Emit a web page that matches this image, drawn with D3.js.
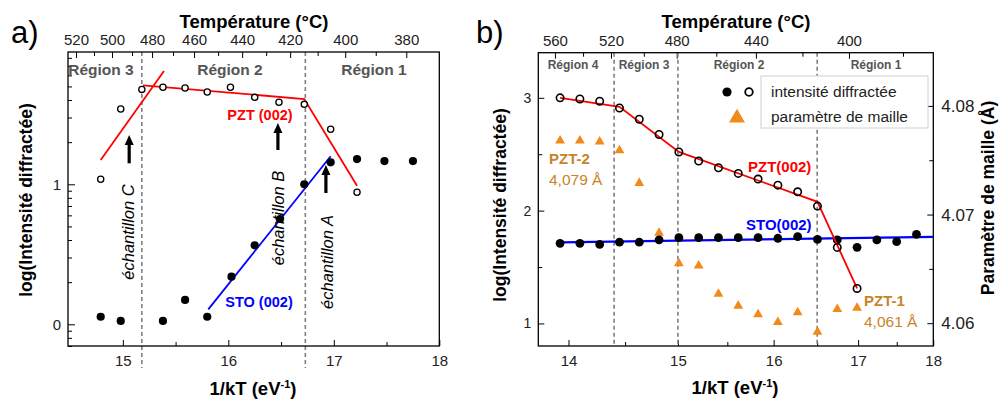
<!DOCTYPE html>
<html><head><meta charset="utf-8">
<script src="https://cdn.jsdelivr.net/npm/d3@7"></script>
<style>body{margin:0;background:#fff}svg{display:block}</style>
</head><body><svg id="c" width="1001" height="403"></svg>
<script>
// ================= DATA =================
const K_B = 8.617333e-5; // eV/K

// ---- Panel a (x: 1/kT, y: log(intensity)) ----
const aPZT_x = [14.79,14.98,15.18,15.38,15.59,15.80,16.02,16.25,16.48,16.72,16.97,17.22];
const aPZT_y = [1.036,1.538,1.678,1.693,1.688,1.659,1.693,1.621,1.586,1.571,1.393,0.943];
const aSTO_x = [14.79,14.98,15.38,15.59,15.80,16.03,16.25,16.49,16.72,16.97,17.22,17.48,17.75];
const aSTO_y = [0.054,0.024,0.024,0.174,0.054,0.340,0.564,0.752,1.000,1.157,1.180,1.166,1.166];
const aFitPZT1_x = [14.79,15.39], aFitPZT1_y = [1.174,1.81];
const aFitPZT2_x = [15.19,16.72,17.22], aFitPZT2_y = [1.707,1.609,0.99];
const aFitSTO_x = [15.81,16.97], aFitSTO_y = [0.107,1.20];
const aBounds = [15.18,16.73];
const aTopLabels = ["520","500","480","460","440","420","400","380"];
const aTopAt = [14.556,14.897,15.277,15.675,16.131,16.586,17.108,17.687];
const aBottomTicks = [15,16,17,18];
const aBottomMinor = [15.5,16.5,17.5];
const aLeftTicks = [0,1];

// ---- Panel b (x: temperature °C, bottom labelled in 1/kT) ----
const bPZT_T = [560,550,540,530,520,510,500,490,480,470,460,450,440,430,420,410];
const bPZT_v = [3.00,2.99,2.97,2.91,2.81,2.675,2.52,2.44,2.38,2.33,2.28,2.226,2.167,2.04,1.674,1.31];
const bSTO_T = [560,550,540,530,520,510,500,490,480,470,460,450,440,430,420,410,400,390,380];
const bSTO_v = [1.71,1.71,1.70,1.72,1.72,1.74,1.76,1.76,1.76,1.76,1.76,1.755,1.77,1.745,1.74,1.675,1.74,1.725,1.79];
const bPar_T = [560,550,540,530,520,510,500,490,480,470,460,450,440,430,420,410];
const bPar_v = [4.0768,4.0768,4.0767,4.0759,4.0729,4.0683,4.0655,4.0653,4.0627,4.0616,4.0608,4.0601,4.0610,4.0592,4.0613,4.0614];
const bFitPZT_T = [560,530,500,430,410], bFitPZT_v = [3.00,2.92,2.52,2.078,1.31];
const bFitSTO_T = [560,371.5], bFitSTO_v = [1.718,1.768];
const bBounds = [14.4,15.0,16.5];           // in 1/kT
const bBottomTicks = [14,15,16,17,18];       // 1/kT
const bBottomMinor = [14.5,15.5,16.5,17.5];
const bTopLabels = ["560","520","480","440","400"];
const bTopAt = [562.6,534.3,501.1,461.1,414.1];
const bTopMinor = [548.4,517.7,481.1,437.6,386.8];
const bLeftTicks = [1,2,3], bLeftMinor = [1.5,2.5];
const bRightTicks = [4.06,4.07,4.08], bRightMinor = [4.065,4.075];

// ================= DRAW =================
const FONT = '"Liberation Sans", Arial, Helvetica, sans-serif';
const svg = d3.select("#c").style("font-family", FONT);
const invT = v => 1/(K_B*v) - 273.15;

function styleAxis(g, size){
  g.select(".domain").remove();
  g.selectAll("text").attr("font-size", size).attr("font-family", FONT).attr("fill","#222");
  g.selectAll("line").attr("stroke","#000").attr("stroke-width",1);
}

// ---------- Panel a ----------
const A = {l:68, r:439.3, t:52, b:346};
const xa = d3.scaleLinear().domain([14.48,18]).range([A.l,A.r]);
const ya = d3.scaleLinear().domain([-0.155,1.945]).range([A.b,A.t]);
const ga = svg.append("g");

// minor log ticks
const aMinor = [];
[-1,0,1].forEach(n=>{ for(let k=2;k<=9;k++){ const v=n+Math.log10(k); if(v>ya.domain()[0]&&v<ya.domain()[1]) aMinor.push(v);} });

ga.append("g").attr("transform",`translate(0,${A.b})`)
  .call(d3.axisBottom(xa).tickValues(aBottomTicks).tickSize(-6).tickSizeOuter(0).tickPadding(9).tickFormat(d3.format("d")))
  .call(g=>styleAxis(g,15));
ga.append("g").attr("transform",`translate(0,${A.b})`)
  .call(d3.axisBottom(xa).tickValues(aBottomMinor).tickSize(-4).tickSizeOuter(0).tickFormat(""))
  .call(g=>styleAxis(g,15));
ga.append("g").attr("transform",`translate(${A.l},0)`)
  .call(d3.axisLeft(ya).tickValues(aLeftTicks).tickSize(-7).tickSizeOuter(0).tickPadding(7).tickFormat(d3.format("d")))
  .call(g=>styleAxis(g,15));
ga.append("g").attr("transform",`translate(${A.l},0)`)
  .call(d3.axisLeft(ya).tickValues(aMinor).tickSize(-4).tickSizeOuter(0).tickFormat(""))
  .call(g=>styleAxis(g,15));
ga.append("g").attr("transform",`translate(0,${A.t})`)
  .call(d3.axisTop(xa).tickValues(aTopAt).tickSize(-6).tickSizeOuter(0).tickPadding(7).tickFormat((d,i)=>aTopLabels[i]))
  .call(g=>styleAxis(g,15));
const aTopMinor = aTopAt.slice(1).map((v,i)=>(v+aTopAt[i])/2);
ga.append("g").attr("transform",`translate(0,${A.t})`)
  .call(d3.axisTop(xa).tickValues(aTopMinor).tickSize(-4).tickSizeOuter(0).tickFormat(""))
  .call(g=>styleAxis(g,15));

// dashed boundaries
ga.selectAll(".bd").data(aBounds).join("line")
  .attr("x1",d=>xa(d)).attr("x2",d=>xa(d)).attr("y1",A.t).attr("y2",A.b+22)
  .attr("stroke","#7f7f7f").attr("stroke-width",1.6).attr("stroke-dasharray","4,3");

ga.append("rect").attr("x",A.l).attr("y",A.t).attr("width",A.r-A.l).attr("height",A.b-A.t)
  .attr("fill","none").attr("stroke","#000").attr("stroke-width",1.3);

// fit lines
const lineA = d3.line().x(d=>xa(d[0])).y(d=>ya(d[1]));
const zip = (a,b)=>a.map((v,i)=>[v,b[i]]);
ga.append("path").attr("d",lineA(zip(aFitPZT1_x,aFitPZT1_y))).attr("stroke","#ff0000").attr("stroke-width",1.8).attr("fill","none");
ga.append("path").attr("d",lineA(zip(aFitPZT2_x,aFitPZT2_y))).attr("stroke","#ff0000").attr("stroke-width",1.8).attr("fill","none");
ga.append("path").attr("d",lineA(zip(aFitSTO_x,aFitSTO_y))).attr("stroke","#0000ff").attr("stroke-width",1.8).attr("fill","none");

// markers
ga.selectAll(".pzt").data(zip(aPZT_x,aPZT_y)).join("circle")
  .attr("cx",d=>xa(d[0])).attr("cy",d=>ya(d[1])).attr("r",3.1)
  .attr("fill","#fff").attr("stroke","#000").attr("stroke-width",1.3);
ga.selectAll(".sto").data(zip(aSTO_x,aSTO_y)).join("circle")
  .attr("cx",d=>xa(d[0])).attr("cy",d=>ya(d[1])).attr("r",4.1).attr("fill","#000");

// region labels
[["Région 3",101],["Région 2",230],["Région 1",374]].forEach(([t,x])=>{
  ga.append("text").attr("x",x).attr("y",75).attr("text-anchor","middle")
    .attr("font-size",15.5).attr("font-weight","bold").attr("fill","#555").text(t);
});
ga.append("text").attr("x",260).attr("y",120).attr("text-anchor","middle")
  .attr("font-size",14.5).attr("font-weight","bold").attr("fill","#ff0000").text("PZT (002)");
ga.append("text").attr("x",259).attr("y",307).attr("text-anchor","middle")
  .attr("font-size",14.5).attr("font-weight","bold").attr("fill","#0000ff").text("STO (002)");

// arrows + sample labels
const arrows = [{x:15.06,y0:1.15,y1:1.352},{x:16.47,y0:1.245,y1:1.438},{x:16.925,y0:0.938,y1:1.138}];
arrows.forEach(a=>{
  const x=xa(a.x), yb=ya(a.y0), yt=ya(a.y1);
  ga.append("line").attr("x1",x).attr("x2",x).attr("y1",yb).attr("y2",yt+8).attr("stroke","#000").attr("stroke-width",3.2);
  ga.append("path").attr("d",`M${x},${yt} L${x-4.5},${yt+10} L${x+4.5},${yt+10} Z`).attr("fill","#000");
});
[["échantillon C",128,232],["échantillon B",278,218],["échantillon A",327,262]].forEach(([t,x,y])=>{
  ga.append("text").attr("transform",`translate(${x},${y}) rotate(-90)`).attr("text-anchor","middle").attr("dy","0.35em")
    .attr("font-size",16.5).attr("font-style","italic").attr("fill","#000").text(t);
});

// titles
ga.append("text").attr("x",254).attr("y",28).attr("text-anchor","middle").attr("font-size",18.5).attr("font-weight","bold").text("Température (°C)");
const xtA = ga.append("text").attr("x",253).attr("y",395).attr("text-anchor","middle").attr("font-size",18.5).attr("font-weight","bold");
xtA.append("tspan").text("1/kT (eV");
xtA.append("tspan").attr("font-size",11).attr("dy",-7).text("-1");
xtA.append("tspan").attr("dy",7).text(")");
ga.append("text").attr("transform","translate(32,200) rotate(-90)").attr("text-anchor","middle").attr("font-size",17.5).attr("font-weight","bold").text("log(Intensité diffractée)");
ga.append("text").attr("x",11).attr("y",43).attr("font-size",31).text("a)");

// ---------- Panel b ----------
const B = {l:538.3, r:933.3, t:52.7, b:346};
const xb = d3.scaleLinear().domain([571,371.5]).range([B.l,B.r]);
const yb = d3.scaleLinear().domain([0.8,3.4]).range([B.b,B.t]);
const yb2 = d3.scaleLinear().domain([4.0579,4.0849]).range([B.b,B.t]);
const gb = svg.append("g");

gb.append("g").attr("transform",`translate(0,${B.b})`)
  .call(d3.axisBottom(xb).tickValues(bBottomTicks.map(invT)).tickSize(-6).tickSizeOuter(0).tickPadding(9).tickFormat((d,i)=>bBottomTicks[i]))
  .call(g=>styleAxis(g,15));
gb.append("g").attr("transform",`translate(0,${B.b})`)
  .call(d3.axisBottom(xb).tickValues(bBottomMinor.map(invT)).tickSize(-4).tickSizeOuter(0).tickFormat(""))
  .call(g=>styleAxis(g,15));
gb.append("g").attr("transform",`translate(0,${B.t})`)
  .call(d3.axisTop(xb).tickValues(bTopAt).tickSize(-6).tickSizeOuter(0).tickPadding(7).tickFormat((d,i)=>bTopLabels[i]))
  .call(g=>styleAxis(g,15));
gb.append("g").attr("transform",`translate(0,${B.t})`)
  .call(d3.axisTop(xb).tickValues(bTopMinor).tickSize(-4).tickSizeOuter(0).tickFormat(""))
  .call(g=>styleAxis(g,15));
gb.append("g").attr("transform",`translate(${B.l},0)`)
  .call(d3.axisLeft(yb).tickValues(bLeftTicks).tickSize(-6).tickSizeOuter(0).tickPadding(7).tickFormat(d3.format("d")))
  .call(g=>styleAxis(g,14));
gb.append("g").attr("transform",`translate(${B.l},0)`)
  .call(d3.axisLeft(yb).tickValues(bLeftMinor).tickSize(-4).tickSizeOuter(0).tickFormat(""))
  .call(g=>styleAxis(g,14));
gb.append("g").attr("transform",`translate(${B.r},0)`)
  .call(d3.axisRight(yb2).tickValues(bRightTicks).tickSize(-6).tickSizeOuter(0).tickPadding(8).tickFormat(d3.format(".2f")))
  .call(g=>styleAxis(g,17));
gb.append("g").attr("transform",`translate(${B.r},0)`)
  .call(d3.axisRight(yb2).tickValues(bRightMinor).tickSize(-4).tickSizeOuter(0).tickFormat(""))
  .call(g=>styleAxis(g,17));

gb.selectAll(".bd").data(bBounds).join("line")
  .attr("x1",d=>xb(invT(d))).attr("x2",d=>xb(invT(d))).attr("y1",B.t).attr("y2",B.b)
  .attr("stroke","#7f7f7f").attr("stroke-width",1.6).attr("stroke-dasharray","4,3");

gb.append("rect").attr("x",B.l).attr("y",B.t).attr("width",B.r-B.l).attr("height",B.b-B.t)
  .attr("fill","none").attr("stroke","#000").attr("stroke-width",1.3);

// triangles
const tri = d3.symbol().type(d3.symbolTriangle).size(42);
gb.selectAll(".par").data(zip(bPar_T,bPar_v)).join("path")
  .attr("d",tri).attr("transform",d=>`translate(${xb(d[0])},${yb2(d[1])})`).attr("fill","#f28a1a");

const lineB = d3.line().x(d=>xb(d[0])).y(d=>yb(d[1]));
gb.append("path").attr("d",lineB(zip(bFitSTO_T,bFitSTO_v))).attr("stroke","#0000ff").attr("stroke-width",2.2).attr("fill","none");
gb.selectAll(".sto").data(zip(bSTO_T,bSTO_v)).join("circle")
  .attr("cx",d=>xb(d[0])).attr("cy",d=>yb(d[1])).attr("r",4.4).attr("fill","#000");
gb.append("path").attr("d",lineB(zip(bFitPZT_T,bFitPZT_v))).attr("stroke","#ff0000").attr("stroke-width",1.8).attr("fill","none");
gb.selectAll(".pzt").data(zip(bPZT_T,bPZT_v)).join("circle")
  .attr("cx",d=>xb(d[0])).attr("cy",d=>yb(d[1])).attr("r",3.7)
  .attr("fill","none").attr("stroke","#000").attr("stroke-width",1.6);

// region labels
[["Région 4",573],["Région 3",644],["Région 2",739],["Région 1",876]].forEach(([t,x])=>{
  gb.append("text").attr("x",x).attr("y",69).attr("text-anchor","middle")
    .attr("font-size",12).attr("font-weight","bold").attr("fill","#555").text(t);
});
gb.append("text").attr("x",748).attr("y",172).attr("font-size",15).attr("font-weight","bold").attr("fill","#ff0000").text("PZT(002)");
gb.append("text").attr("x",746).attr("y",230).attr("font-size",15).attr("font-weight","bold").attr("fill","#0000ff").text("STO(002)");
gb.append("text").attr("x",549).attr("y",164).attr("font-size",15).attr("font-weight","bold").attr("fill","#c8842c").text("PZT-2");
gb.append("text").attr("x",549).attr("y",185).attr("font-size",15.5).attr("fill","#c8842c").text("4,079 Å");
gb.append("text").attr("x",864).attr("y",306).attr("font-size",15).attr("font-weight","bold").attr("fill","#c8842c").text("PZT-1");
gb.append("text").attr("x",864).attr("y",327).attr("font-size",15.5).attr("fill","#c8842c").text("4,061 Å");

// legend
gb.append("rect").attr("x",761).attr("y",76).attr("width",167).attr("height",52).attr("fill","#fff").attr("stroke","#d0d0d0");
gb.append("circle").attr("cx",727).attr("cy",92).attr("r",4.6).attr("fill","#000");
gb.append("circle").attr("cx",749).attr("cy",92).attr("r",3.8).attr("fill","none").attr("stroke","#000").attr("stroke-width",1.8);
gb.append("path").attr("d",d3.symbol().type(d3.symbolTriangle).size(110)).attr("transform","translate(737,118)").attr("fill","#f28a1a");
gb.append("text").attr("x",771).attr("y",97).attr("font-size",15.5).attr("fill","#222").text("intensité diffractée");
gb.append("text").attr("x",771).attr("y",122).attr("font-size",15.5).attr("fill","#222").text("paramètre de maille");

// titles
gb.append("text").attr("x",736).attr("y",28).attr("text-anchor","middle").attr("font-size",18.5).attr("font-weight","bold").text("Température (°C)");
const xtB = gb.append("text").attr("x",735).attr("y",394).attr("text-anchor","middle").attr("font-size",18.5).attr("font-weight","bold");
xtB.append("tspan").text("1/kT (eV");
xtB.append("tspan").attr("font-size",11).attr("dy",-7).text("-1");
xtB.append("tspan").attr("dy",7).text(")");
gb.append("text").attr("transform","translate(506,205) rotate(-90)").attr("text-anchor","middle").attr("font-size",17.5).attr("font-weight","bold").text("log(Intensité diffractée)");
gb.append("text").attr("transform","translate(994,198) rotate(-90)").attr("text-anchor","middle").attr("font-size",17.5).attr("font-weight","bold").text("Paramètre de maille (Å)");
gb.append("text").attr("x",476).attr("y",43).attr("font-size",31).text("b)");
</script></body></html>
